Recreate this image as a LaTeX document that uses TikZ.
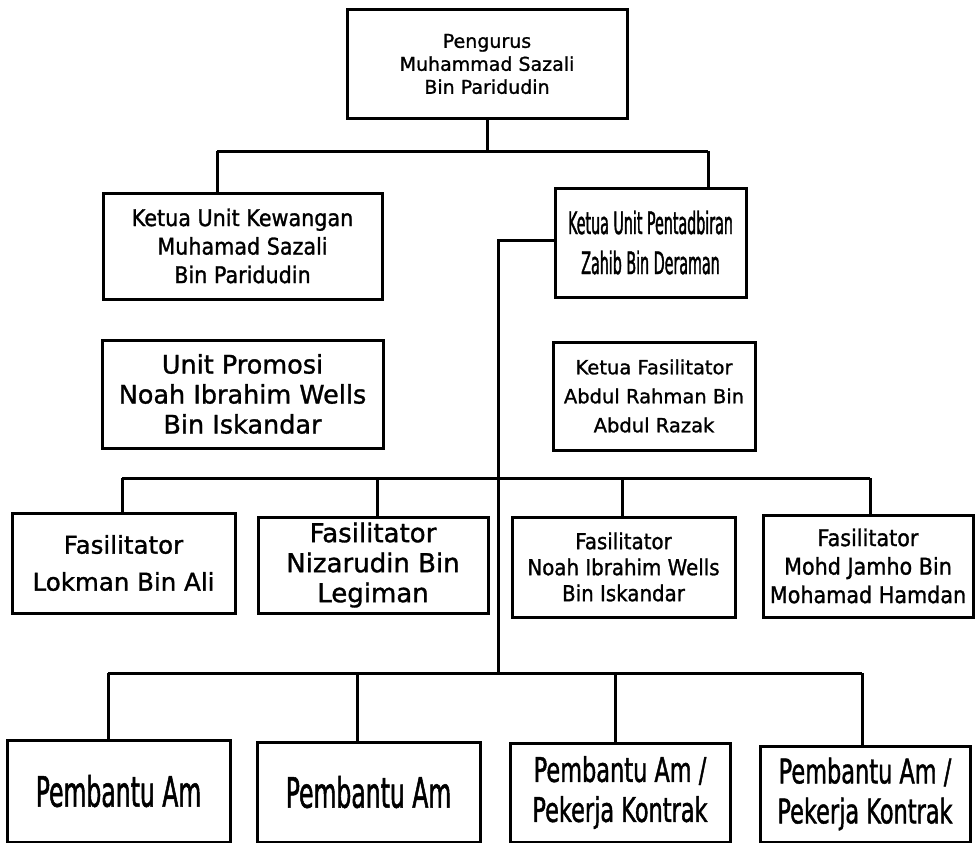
\documentclass[tikz,border=0pt]{standalone}
\usepackage{fontspec}
\setmainfont[FakeBold=1.2]{DejaVu Sans}
\newfontfamily\condA[FakeStretch=0.46,FakeBold=1.2]{DejaVu Sans}
\newfontfamily\condB[FakeStretch=0.66,FakeBold=1.2]{DejaVu Sans}
\newfontfamily\condC[FakeStretch=0.9,FakeBold=1.2]{DejaVu Sans}
\newfontfamily\condE[FakeStretch=0.56,FakeBold=1.2]{DejaVu Sans}
\begin{document}
\begin{tikzpicture}[x=1pt,y=-1pt,
  box/.style={draw, line width=3pt, align=center, inner sep=0pt},
  wire/.style={line width=3pt}]
\useasboundingbox (0,0) rectangle (975,843);
% boxes
\node[box, minimum width=280, minimum height=108, font=\fontsize{19}{23}\selectfont] (top) at (487,64)
  {Pengurus\\Muhammad Sazali\\Bin Paridudin};
\node[box, minimum width=279, minimum height=106, font=\condC\fontsize{23}{28.5}\selectfont] (kew) at (242.5,246)
  {Ketua Unit Kewangan\\Muhamad Sazali\\Bin Paridudin};
\node[box, minimum width=191, minimum height=109, font=\condA\fontsize{31}{40}\selectfont] (pent) at (650.5,242.5)
  {Ketua Unit Pentadbiran\\Zahib Bin Deraman};
\node[box, minimum width=281, minimum height=108, font=\fontsize{25.5}{30}\selectfont] (promo) at (242.5,394)
  {Unit Promosi\\Noah Ibrahim Wells\\Bin Iskandar};
\node[box, minimum width=202, minimum height=108, font=\fontsize{19.5}{29}\selectfont] (kfas) at (654,396)
  {Ketua Fasilitator\\Abdul Rahman Bin\\Abdul Razak};
\node[box, minimum width=223, minimum height=100, font=\fontsize{24.5}{37}\selectfont] (f1) at (123.5,563)
  {Fasilitator\\Lokman Bin Ali};
\node[box, minimum width=230, minimum height=96, font=\fontsize{26}{30}\selectfont] (f2) at (373,565)
  {Fasilitator\\Nizarudin Bin\\Legiman};
\node[box, minimum width=223, minimum height=100, font=\condC\fontsize{22}{26}\selectfont] (f3) at (623.5,567)
  {Fasilitator\\Noah Ibrahim Wells\\Bin Iskandar};
\node[box, minimum width=210, minimum height=102, font=\condC\fontsize{23}{28.5}\selectfont] (f4) at (868,566)
  {Fasilitator\\Mohd Jamho Bin\\Mohamad Hamdan};
\node[box, minimum width=223, minimum height=102, font=\condE\fontsize{42}{44}\selectfont] (p1) at (118.5,791)
  {Pembantu Am};
\node[box, minimum width=223, minimum height=100, font=\condE\fontsize{42}{44}\selectfont] (p2) at (368.5,792)
  {Pembantu Am};
\node[box, minimum width=220, minimum height=99, font=\condB\fontsize{34}{40}\selectfont] (p3) at (620,792.5)
  {Pembantu Am /\\Pekerja Kontrak};
\node[box, minimum width=210, minimum height=96, font=\condB\fontsize{34}{40}\selectfont] (p4) at (865,794)
  {Pembantu Am /\\Pekerja Kontrak};
% connector coordinates
\coordinate (t1) at (217,151);
\coordinate (t2) at (708,151);
\coordinate (ctop) at (498,240);
\coordinate (m1) at (122,478);
\coordinate (m2) at (377,478);
\coordinate (m3) at (622,478);
\coordinate (m4) at (870,478);
\coordinate (b1) at (108,673);
\coordinate (b2) at (357,673);
\coordinate (b3) at (615,673);
\coordinate (b4) at (862,673);
\coordinate (cbot) at (498,673);
% top level
\draw[wire] (top.south) -- (top.south |- t1);
\draw[wire] (t1) -- (t2);
\draw[wire] (t1) -- (t1 |- kew.north);
\draw[wire] (t2) -- (t2 |- pent.north);
% trunk
\draw[wire] (pent.west |- ctop) -- (ctop) -- (cbot);
% fasilitator bus
\draw[wire] (m1) -- (m4);
\draw[wire] (m1) -- (m1 |- f1.north);
\draw[wire] (m2) -- (m2 |- f2.north);
\draw[wire] (m3) -- (m3 |- f3.north);
\draw[wire] (m4) -- (m4 |- f4.north);
% pembantu bus
\draw[wire] (b1) -- (b4);
\draw[wire] (b1) -- (b1 |- p1.north);
\draw[wire] (b2) -- (b2 |- p2.north);
\draw[wire] (b3) -- (b3 |- p3.north);
\draw[wire] (b4) -- (b4 |- p4.north);
\end{tikzpicture}
\end{document}
